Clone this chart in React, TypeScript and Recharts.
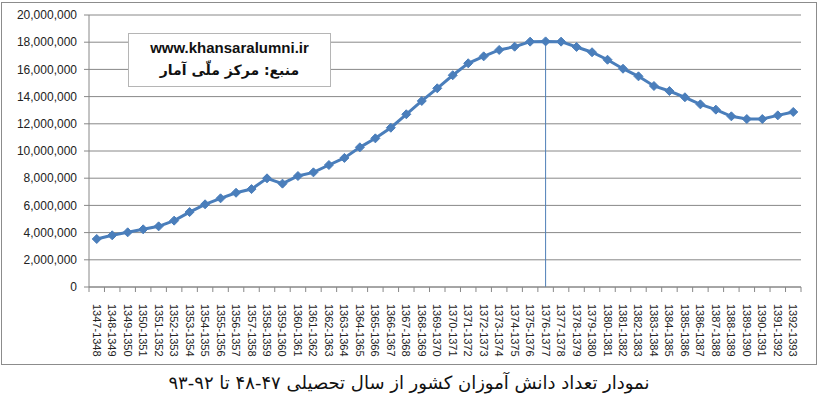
import React from "react";
import {
  LineChart,
  Line,
  XAxis,
  YAxis,
  CartesianGrid,
  ReferenceLine,
} from "recharts";

const years = [
  "1347-1348", "1348-1349", "1349-1350", "1350-1351", "1351-1352", "1352-1353",
  "1353-1354", "1354-1355", "1355-1356", "1356-1357", "1357-1358", "1358-1359",
  "1359-1360", "1360-1361", "1361-1362", "1362-1363", "1363-1364", "1364-1365",
  "1365-1366", "1366-1367", "1367-1368", "1368-1369", "1369-1370", "1370-1371",
  "1371-1372", "1372-1373", "1373-1374", "1374-1375", "1375-1376", "1376-1377",
  "1377-1378", "1378-1379", "1379-1380", "1380-1381", "1381-1382", "1382-1383",
  "1383-1384", "1384-1385", "1385-1386", "1386-1387", "1387-1388", "1388-1389",
  "1389-1390", "1390-1391", "1391-1392", "1392-1393",
];

// number of students
const students = [
  3530000, 3800000, 4020000, 4240000, 4460000, 4880000, 5510000, 6080000, 6520000, 6930000,
  7200000, 7990000, 7600000, 8160000, 8430000, 8970000, 9490000, 10270000, 10930000, 11710000,
  12700000, 13680000, 14610000, 15570000, 16450000, 16960000, 17430000, 17670000, 18040000, 18060000,
  18040000, 17650000, 17260000, 16710000, 16050000, 15490000, 14780000, 14410000, 13950000, 13430000,
  13040000, 12550000, 12350000, 12350000, 12620000, 12870000,
];

const yTicks = [0, 2000000, 4000000, 6000000, 8000000, 10000000, 12000000, 14000000, 16000000, 18000000, 20000000];

const peakYear = "1376-1377";
const peakValue = students[years.indexOf(peakYear)];

const data = years.map((year, i) => ({ year, value: students[i] }));

const BLUE = "#4A7EBB";
const GRID = "#888888";

const Diamond = (props: any) => {
  const { cx, cy } = props;
  if (cx == null || cy == null) return null;
  const r = 4.5;
  return (
    <polygon
      points={`${cx},${cy - r} ${cx + r},${cy} ${cx},${cy + r} ${cx - r},${cy}`}
      fill={BLUE}
      stroke={BLUE}
      strokeWidth={1}
    />
  );
};

const YearTick = (props: any) => {
  const { x, y, payload, index, visibleTicksCount } = props;
  const half = payload.offset || 712 / 46 / 2;
  return (
    <g>
      <line x1={x - half} y1={y - 8} x2={x - half} y2={y - 3} stroke={GRID} />
      {index === visibleTicksCount - 1 && (
        <line x1={x + half} y1={y - 8} x2={x + half} y2={y - 3} stroke={GRID} />
      )}
      <text
        x={x}
        y={y + 9}
        transform={`rotate(90 ${x} ${y + 9})`}
        textAnchor="start"
        dominantBaseline="central"
        fontSize={11}
        fill="#222"
        fontFamily="'Liberation Sans', Arial, sans-serif"
      >
        {payload.value}
      </text>
    </g>
  );
};

export default function App() {
  return (
    <div
      style={{
        position: "absolute",
        left: 0,
        top: 0,
        width: 818,
        height: 405,
        background: "#fff",
      }}
    >
      <div
        style={{
          position: "absolute",
          left: 1,
          top: 2,
          width: 814,
          height: 361,
          border: "1px solid #8c8c8c",
        }}
      />
      <div style={{ position: "absolute", left: 0, top: 0 }}>
        <LineChart
          width={818}
          height={366}
          data={data}
          margin={{ top: 15, right: 17, bottom: 7, left: 0 }}
        >
          <CartesianGrid vertical={false} stroke={GRID} />
          <XAxis
            dataKey="year"
            scale="band"
            interval={0}
            height={72}
            tickLine={false}
            axisLine={{ stroke: GRID }}
            tick={<YearTick />}
          />
          <YAxis
            width={89}
            domain={[0, 20000000]}
            ticks={yTicks}
            interval={0}
            tickSize={5}
            tickMargin={7}
            tickLine={{ stroke: GRID }}
            axisLine={{ stroke: GRID }}
            tickFormatter={(v: number) => v.toLocaleString("en-US")}
            tick={{ fontSize: 12, fill: "#222", fontFamily: "'Liberation Sans', Arial, sans-serif" }}
          />
          <ReferenceLine
            segment={[
              { x: peakYear, y: 0 },
              { x: peakYear, y: peakValue },
            ]}
            stroke="#4F7FB8"
            strokeWidth={1}
          />
          <Line
            type="linear"
            dataKey="value"
            stroke={BLUE}
            strokeWidth={3}
            dot={<Diamond />}
            activeDot={false}
            isAnimationActive={false}
          />
        </LineChart>
      </div>
      <div
        style={{
          position: "absolute",
          left: 128,
          top: 33,
          width: 201,
          height: 52,
          border: "1px solid #b5b5b5",
          background: "#fff",
          textAlign: "center",
          color: "#111",
        }}
      >
        <div
          style={{
            fontFamily: "'Liberation Sans', Arial, sans-serif",
            fontWeight: "bold",
            fontSize: 15,
            marginTop: 5,
            lineHeight: "18px",
          }}
        >
          www.khansaralumni.ir
        </div>
        <div
          dir="rtl"
          style={{
            fontFamily: "'DejaVu Sans', sans-serif",
            fontWeight: "bold",
            fontSize: 14,
            marginTop: 3,
            lineHeight: "20px",
          }}
        >
          منبع: مرکز ملّی آمار
        </div>
      </div>
      <div
        dir="rtl"
        style={{
          position: "absolute",
          left: 0,
          top: 372,
          width: 818,
          textAlign: "center",
          fontFamily: "'DejaVu Sans', sans-serif",
          fontSize: 18,
          color: "#111",
        }}
      >
        {"نمودار تعداد دانش آموزان کشور از سال تحصیلی ۴۷\u200F-\u200F۴۸ تا ۹۲\u200F-\u200F۹۳"}
      </div>
    </div>
  );
}
